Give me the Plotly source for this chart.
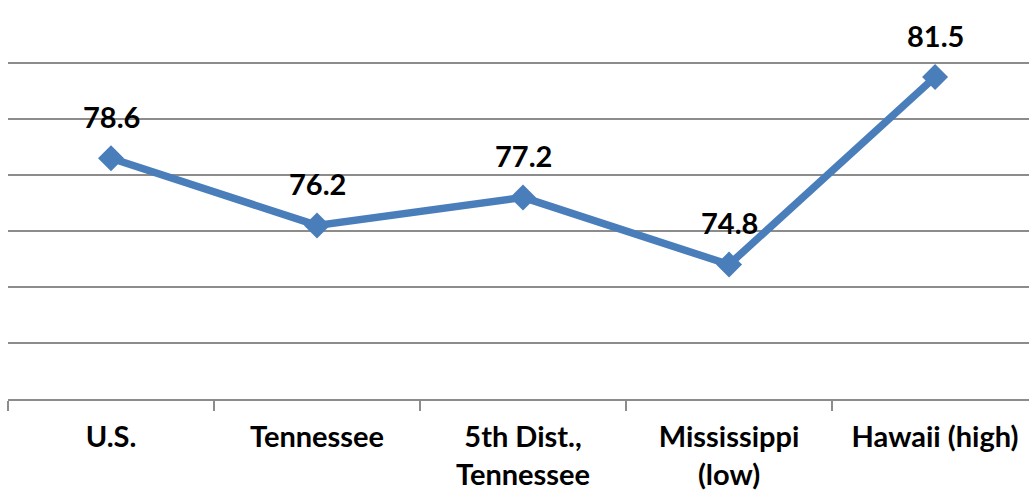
import plotly.graph_objects as go

# Life expectancy at birth (years)
categories = ["U.S.", "Tennessee", "5th Dist.,<br>Tennessee", "Mississippi<br>(low)", "Hawaii (high)"]
values = [78.6, 76.2, 77.2, 74.8, 81.5]

LINE_BLUE = "#4A7EBB"
GRID_GRAY = "#8C8C8C"
FONT = "Lato"

fig = go.Figure()

fig.add_trace(go.Scatter(
    x=categories,
    y=values,
    mode="lines+markers",
    line=dict(color=LINE_BLUE, width=7.5),
    marker=dict(symbol="diamond", size=20, color=LINE_BLUE),
    hoverinfo="skip",
    showlegend=False,
))

# value labels above each point
for cat, val in zip(categories, values):
    fig.add_annotation(
        x=cat, y=val, text=f"<b>{val}</b>", showarrow=False,
        yshift=42, font=dict(family=FONT, size=29, color="black"),
    )

fig.update_layout(
    width=1029, height=495,
    margin=dict(l=8, r=0, t=7, b=96),
    paper_bgcolor="white", plot_bgcolor="white",
    font=dict(family=FONT, size=29, color="black"),
    xaxis=dict(
        type="category",
        range=[-0.5, 4.456],
        tickson="boundaries",
        ticks="outside", ticklen=10, tickwidth=2, tickcolor=GRID_GRAY,
        showline=True, linecolor=GRID_GRAY, linewidth=2,
        showgrid=False, zeroline=False,
        tickfont=dict(family=FONT, size=29, color="black", weight="bold"),
        ticklabelstandoff=11,
    ),
    yaxis=dict(
        range=[70, 84], dtick=2,
        showgrid=True, gridcolor=GRID_GRAY, gridwidth=2,
        showticklabels=False, zeroline=False, showline=False,
    ),
)

fig.write_html("out.html")
